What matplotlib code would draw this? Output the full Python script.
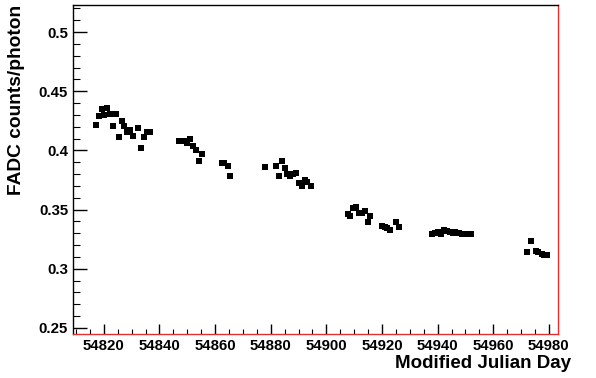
import matplotlib
matplotlib.use("Agg")
import matplotlib.pyplot as plt
from matplotlib.ticker import MultipleLocator, FuncFormatter

plt.rcParams['font.family'] = ['Liberation Sans', 'DejaVu Sans']

mjd = [54817.1, 54818.2, 54819.2, 54820.1, 54821.2, 54822.2, 54823.2, 54824.3,
       54825.4, 54826.4, 54827.4, 54828.4, 54829.5, 54830.4, 54832.2, 54833.5,
       54834.6, 54835.6, 54836.7,
       54847.1, 54848.0, 54849.0, 54849.9, 54851.0, 54852.1, 54853.2, 54854.1, 54855.2,
       54862.5, 54863.3, 54864.5, 54865.5,
       54877.8, 54881.9, 54883.0, 54884.0, 54885.0, 54886.0, 54887.0, 54888.1,
       54889.2, 54890.2, 54891.2, 54892.3, 54893.2, 54894.3,
       54907.6, 54908.6, 54909.6, 54910.7, 54911.7, 54912.7, 54913.8, 54914.8, 54915.8,
       54919.9, 54921.0, 54921.9, 54923.0, 54925.1, 54926.1,
       54938.0, 54939.0, 54940.1, 54941.1, 54942.2, 54943.2, 54944.3, 54945.4,
       54946.4, 54947.6, 54948.7, 54949.8, 54950.9, 54952.0,
       54972.3, 54973.4, 54975.3, 54976.1, 54977.4, 54978.3, 54979.2]
gain = [0.4217, 0.4287, 0.4352, 0.4299, 0.4358, 0.4310, 0.4206, 0.4304,
        0.4110, 0.4248, 0.4206, 0.4152, 0.4172, 0.4118, 0.4189, 0.4023,
        0.4110, 0.4155, 0.4155,
        0.4082, 0.4082, 0.4082, 0.4065, 0.4099, 0.4040, 0.4003, 0.3907, 0.3966,
        0.3894, 0.3894, 0.3865, 0.3780,
        0.3862, 0.3865, 0.3786, 0.3913, 0.3848, 0.3803, 0.3780, 0.3803,
        0.3812, 0.3725, 0.3696, 0.3747, 0.3730, 0.3696,
        0.3465, 0.3446, 0.3510, 0.3519, 0.3468, 0.3468, 0.3491, 0.3392, 0.3443,
        0.3358, 0.3353, 0.3345, 0.3328, 0.3392, 0.3356,
        0.3298, 0.3305, 0.3315, 0.3295, 0.3328, 0.3318, 0.3310, 0.3300,
        0.3312, 0.3302, 0.3296, 0.3292, 0.3290, 0.3290,
        0.3142, 0.3231, 0.3147, 0.3139, 0.3125, 0.3119, 0.3119]

x_label = "Modified Julian Day"
y_label = "FADC counts/photon"

fig = plt.figure(figsize=(5.96, 3.78), dpi=100)
ax = fig.add_axes([73/596, 1-334/378, (557.5-73)/596, (334-5)/378])
ax.plot(mjd, gain, linestyle='none', marker='s', markersize=3.9,
        color='black', markeredgewidth=0)

ax.set_xlim(54808.9, 54983.1)
ax.set_ylim(0.2449, 0.5229)
ax.xaxis.set_major_locator(MultipleLocator(20))
ax.xaxis.set_minor_locator(MultipleLocator(5))
ax.yaxis.set_major_locator(MultipleLocator(0.05))
ax.yaxis.set_minor_locator(MultipleLocator(0.01))

ax.tick_params(axis='x', which='major', direction='in', length=7.1, width=1.0,
               pad=3.5, labelsize=10.8)
ax.tick_params(axis='x', which='minor', direction='in', length=3.6, width=0.8)
ax.tick_params(axis='y', which='major', direction='in', length=10.4, width=1.0,
               pad=3.6, labelsize=10.8)
ax.tick_params(axis='y', which='minor', direction='in', length=5.2, width=0.8)
ax.yaxis.set_major_formatter(FuncFormatter(lambda v, p: '%g' % round(v, 3)))
for lab in ax.get_xticklabels() + ax.get_yticklabels():
    lab.set_fontweight('bold')

for s in ['left', 'top']:
    ax.spines[s].set_color('black')
    ax.spines[s].set_linewidth(1.0)
for s in ['bottom', 'right']:
    ax.spines[s].set_color('#e03030')
    ax.spines[s].set_linewidth(1.0)

fig.text(571/596, 1-368/378, x_label, ha='right', va='baseline',
         fontsize=13.5, fontweight='bold')
fig.text(17/596, 1-5/378, y_label, ha='center', va='top', rotation=90,
         fontsize=13.8, fontweight='bold')

fig.savefig("out.png", dpi=100)
